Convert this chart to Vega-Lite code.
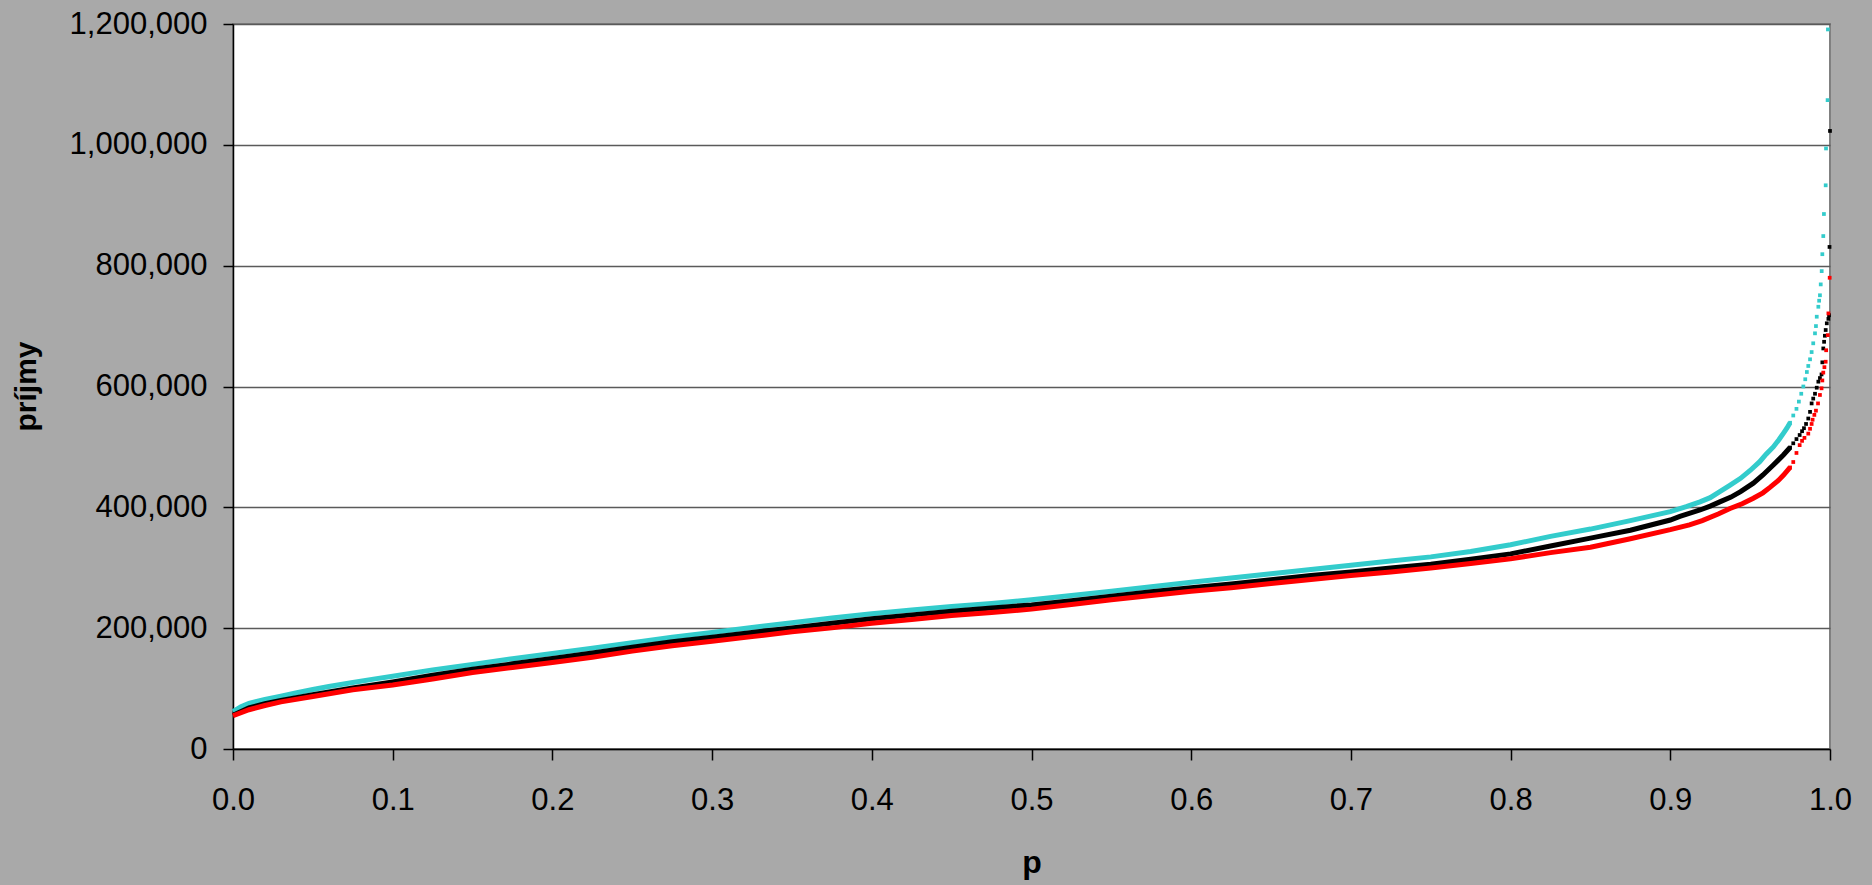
{
  "$schema": "https://vega.github.io/schema/vega-lite/v6.json",
  "width": 1597,
  "height": 725,
  "autosize": "none",
  "padding": {"left": 233, "top": 24, "right": 42, "bottom": 136},
  "background": "#a9a9a9",
  "config": {
    "view": {"fill": "white", "stroke": "#808080", "strokeWidth": 2},
    "font": "Liberation Sans"
  },
  "data": {"values": [
    {"s": "c", "p": 0.000, "v": 62000}, {"s": "c", "p": 0.005, "v": 70000}, {"s": "c", "p": 0.010, "v": 75500},
    {"s": "c", "p": 0.020, "v": 82000}, {"s": "c", "p": 0.030, "v": 87500}, {"s": "c", "p": 0.040, "v": 93000},
    {"s": "c", "p": 0.050, "v": 98500}, {"s": "c", "p": 0.060, "v": 103500}, {"s": "c", "p": 0.075, "v": 110000},
    {"s": "c", "p": 0.090, "v": 116500}, {"s": "c", "p": 0.100, "v": 120500}, {"s": "c", "p": 0.125, "v": 131000},
    {"s": "c", "p": 0.150, "v": 140000}, {"s": "c", "p": 0.175, "v": 149500}, {"s": "c", "p": 0.200, "v": 158000},
    {"s": "c", "p": 0.225, "v": 167000}, {"s": "c", "p": 0.250, "v": 176000}, {"s": "c", "p": 0.275, "v": 185000},
    {"s": "c", "p": 0.300, "v": 193000}, {"s": "c", "p": 0.325, "v": 201000}, {"s": "c", "p": 0.350, "v": 209000},
    {"s": "c", "p": 0.375, "v": 217000}, {"s": "c", "p": 0.400, "v": 224000}, {"s": "c", "p": 0.425, "v": 230000},
    {"s": "c", "p": 0.450, "v": 236000}, {"s": "c", "p": 0.475, "v": 241000}, {"s": "c", "p": 0.500, "v": 247000},
    {"s": "c", "p": 0.525, "v": 254000}, {"s": "c", "p": 0.550, "v": 261000}, {"s": "c", "p": 0.575, "v": 268500},
    {"s": "c", "p": 0.600, "v": 276000}, {"s": "c", "p": 0.625, "v": 283000}, {"s": "c", "p": 0.650, "v": 290000},
    {"s": "c", "p": 0.675, "v": 297000}, {"s": "c", "p": 0.700, "v": 304000}, {"s": "c", "p": 0.725, "v": 311000},
    {"s": "c", "p": 0.750, "v": 318000}, {"s": "c", "p": 0.775, "v": 327000}, {"s": "c", "p": 0.800, "v": 338000},
    {"s": "c", "p": 0.825, "v": 352000}, {"s": "c", "p": 0.850, "v": 364000}, {"s": "c", "p": 0.875, "v": 378000},
    {"s": "c", "p": 0.900, "v": 393000}, {"s": "c", "p": 0.910, "v": 401000}, {"s": "c", "p": 0.9186, "v": 409000},
    {"s": "c", "p": 0.925, "v": 416000}, {"s": "c", "p": 0.931, "v": 426000}, {"s": "c", "p": 0.937, "v": 436000},
    {"s": "c", "p": 0.944, "v": 448000}, {"s": "c", "p": 0.950, "v": 461000}, {"s": "c", "p": 0.956, "v": 475600},
    {"s": "c", "p": 0.960, "v": 488000}, {"s": "c", "p": 0.9645, "v": 500000}, {"s": "c", "p": 0.968, "v": 512000},
    {"s": "c", "p": 0.9708, "v": 522500}, {"s": "c", "p": 0.973, "v": 531000}, {"s": "c", "p": 0.975, "v": 540000},
    {"s": "c", "p": 0.977, "v": 552000}, {"s": "c", "p": 0.979, "v": 563000}, {"s": "c", "p": 0.9805, "v": 575000},
    {"s": "c", "p": 0.982, "v": 588000}, {"s": "c", "p": 0.9833, "v": 600000}, {"s": "c", "p": 0.9845, "v": 612000},
    {"s": "c", "p": 0.9855, "v": 624000}, {"s": "c", "p": 0.9864, "v": 634000}, {"s": "c", "p": 0.9875, "v": 645000},
    {"s": "c", "p": 0.9885, "v": 657000}, {"s": "c", "p": 0.9895, "v": 671500}, {"s": "c", "p": 0.9906, "v": 688000},
    {"s": "c", "p": 0.9912, "v": 700000}, {"s": "c", "p": 0.9917, "v": 715500}, {"s": "c", "p": 0.9927, "v": 732000},
    {"s": "c", "p": 0.9932, "v": 742000}, {"s": "c", "p": 0.9937, "v": 751000}, {"s": "c", "p": 0.9942, "v": 769000},
    {"s": "c", "p": 0.9948, "v": 791000}, {"s": "c", "p": 0.9952, "v": 819000}, {"s": "c", "p": 0.9958, "v": 849000},
    {"s": "c", "p": 0.9962, "v": 885500}, {"s": "c", "p": 0.9973, "v": 933000}, {"s": "c", "p": 0.9975, "v": 994000},
    {"s": "c", "p": 0.9985, "v": 1074000}, {"s": "c", "p": 0.9987, "v": 1191000},

    {"s": "k", "p": 0.000, "v": 56000}, {"s": "k", "p": 0.010, "v": 68000}, {"s": "k", "p": 0.020, "v": 75000},
    {"s": "k", "p": 0.030, "v": 80500}, {"s": "k", "p": 0.050, "v": 90000}, {"s": "k", "p": 0.075, "v": 101000},
    {"s": "k", "p": 0.100, "v": 111000}, {"s": "k", "p": 0.125, "v": 122000}, {"s": "k", "p": 0.150, "v": 132000},
    {"s": "k", "p": 0.175, "v": 141000}, {"s": "k", "p": 0.200, "v": 150000}, {"s": "k", "p": 0.225, "v": 159000},
    {"s": "k", "p": 0.250, "v": 168500}, {"s": "k", "p": 0.275, "v": 177500}, {"s": "k", "p": 0.300, "v": 185000},
    {"s": "k", "p": 0.325, "v": 193000}, {"s": "k", "p": 0.350, "v": 200500}, {"s": "k", "p": 0.375, "v": 208000},
    {"s": "k", "p": 0.400, "v": 215500}, {"s": "k", "p": 0.425, "v": 222000}, {"s": "k", "p": 0.450, "v": 228000},
    {"s": "k", "p": 0.475, "v": 233500}, {"s": "k", "p": 0.500, "v": 238500}, {"s": "k", "p": 0.525, "v": 245500},
    {"s": "k", "p": 0.550, "v": 253000}, {"s": "k", "p": 0.575, "v": 260500}, {"s": "k", "p": 0.600, "v": 267000},
    {"s": "k", "p": 0.625, "v": 273000}, {"s": "k", "p": 0.650, "v": 280000}, {"s": "k", "p": 0.675, "v": 287000},
    {"s": "k", "p": 0.700, "v": 293000}, {"s": "k", "p": 0.725, "v": 299500}, {"s": "k", "p": 0.750, "v": 306000},
    {"s": "k", "p": 0.775, "v": 314000}, {"s": "k", "p": 0.800, "v": 323000}, {"s": "k", "p": 0.825, "v": 336000},
    {"s": "k", "p": 0.850, "v": 349000}, {"s": "k", "p": 0.875, "v": 362000}, {"s": "k", "p": 0.900, "v": 379000},
    {"s": "k", "p": 0.906, "v": 385000}, {"s": "k", "p": 0.9186, "v": 395600}, {"s": "k", "p": 0.925, "v": 402000},
    {"s": "k", "p": 0.931, "v": 409000}, {"s": "k", "p": 0.938, "v": 417000}, {"s": "k", "p": 0.944, "v": 426000},
    {"s": "k", "p": 0.948, "v": 433000}, {"s": "k", "p": 0.952, "v": 440000}, {"s": "k", "p": 0.958, "v": 453500},
    {"s": "k", "p": 0.9645, "v": 470000}, {"s": "k", "p": 0.9708, "v": 486600}, {"s": "k", "p": 0.975, "v": 499000},
    {"s": "k", "p": 0.977, "v": 506000}, {"s": "k", "p": 0.979, "v": 513000}, {"s": "k", "p": 0.981, "v": 519700},
    {"s": "k", "p": 0.9825, "v": 526000}, {"s": "k", "p": 0.9837, "v": 531000}, {"s": "k", "p": 0.985, "v": 538000},
    {"s": "k", "p": 0.9864, "v": 547000}, {"s": "k", "p": 0.9875, "v": 558000}, {"s": "k", "p": 0.9885, "v": 572000},
    {"s": "k", "p": 0.9895, "v": 580000}, {"s": "k", "p": 0.9906, "v": 588000}, {"s": "k", "p": 0.9917, "v": 598000},
    {"s": "k", "p": 0.9927, "v": 608000}, {"s": "k", "p": 0.9937, "v": 614000}, {"s": "k", "p": 0.9947, "v": 620000},
    {"s": "k", "p": 0.9952, "v": 640000}, {"s": "k", "p": 0.9958, "v": 663000}, {"s": "k", "p": 0.9963, "v": 674000},
    {"s": "k", "p": 0.9968, "v": 684000}, {"s": "k", "p": 0.9973, "v": 693500}, {"s": "k", "p": 0.998, "v": 704600},
    {"s": "k", "p": 0.999, "v": 712000}, {"s": "k", "p": 0.9994, "v": 718000}, {"s": "k", "p": 0.9997, "v": 831000},
    {"s": "k", "p": 1.0, "v": 1023000},

    {"s": "r", "p": 0.000, "v": 55000}, {"s": "r", "p": 0.010, "v": 65000}, {"s": "r", "p": 0.020, "v": 72000},
    {"s": "r", "p": 0.030, "v": 78000}, {"s": "r", "p": 0.050, "v": 87000}, {"s": "r", "p": 0.075, "v": 98000},
    {"s": "r", "p": 0.100, "v": 106000}, {"s": "r", "p": 0.125, "v": 116000}, {"s": "r", "p": 0.150, "v": 126500},
    {"s": "r", "p": 0.175, "v": 135000}, {"s": "r", "p": 0.200, "v": 143000}, {"s": "r", "p": 0.225, "v": 152000},
    {"s": "r", "p": 0.250, "v": 162000}, {"s": "r", "p": 0.275, "v": 171000}, {"s": "r", "p": 0.300, "v": 178500},
    {"s": "r", "p": 0.325, "v": 186000}, {"s": "r", "p": 0.350, "v": 194000}, {"s": "r", "p": 0.375, "v": 200500},
    {"s": "r", "p": 0.400, "v": 208000}, {"s": "r", "p": 0.425, "v": 214500}, {"s": "r", "p": 0.450, "v": 221000},
    {"s": "r", "p": 0.475, "v": 226000}, {"s": "r", "p": 0.500, "v": 231500}, {"s": "r", "p": 0.525, "v": 239000},
    {"s": "r", "p": 0.550, "v": 247000}, {"s": "r", "p": 0.575, "v": 254000}, {"s": "r", "p": 0.600, "v": 261000},
    {"s": "r", "p": 0.625, "v": 267000}, {"s": "r", "p": 0.650, "v": 274000}, {"s": "r", "p": 0.675, "v": 280500},
    {"s": "r", "p": 0.700, "v": 287000}, {"s": "r", "p": 0.725, "v": 293000}, {"s": "r", "p": 0.750, "v": 299500},
    {"s": "r", "p": 0.775, "v": 307000}, {"s": "r", "p": 0.800, "v": 315000}, {"s": "r", "p": 0.825, "v": 325000},
    {"s": "r", "p": 0.850, "v": 334000}, {"s": "r", "p": 0.875, "v": 348000}, {"s": "r", "p": 0.900, "v": 363000},
    {"s": "r", "p": 0.912, "v": 371000}, {"s": "r", "p": 0.920, "v": 378000}, {"s": "r", "p": 0.930, "v": 389000},
    {"s": "r", "p": 0.9374, "v": 398000}, {"s": "r", "p": 0.945, "v": 406000}, {"s": "r", "p": 0.952, "v": 415000},
    {"s": "r", "p": 0.958, "v": 424000}, {"s": "r", "p": 0.9624, "v": 433000}, {"s": "r", "p": 0.9675, "v": 444000},
    {"s": "r", "p": 0.9708, "v": 453000}, {"s": "r", "p": 0.975, "v": 466000}, {"s": "r", "p": 0.977, "v": 475000},
    {"s": "r", "p": 0.979, "v": 490000}, {"s": "r", "p": 0.981, "v": 503000}, {"s": "r", "p": 0.9825, "v": 510000},
    {"s": "r", "p": 0.984, "v": 515000}, {"s": "r", "p": 0.9864, "v": 522000}, {"s": "r", "p": 0.9875, "v": 530000},
    {"s": "r", "p": 0.9885, "v": 538000}, {"s": "r", "p": 0.9891, "v": 545000}, {"s": "r", "p": 0.9902, "v": 553000},
    {"s": "r", "p": 0.9912, "v": 560000}, {"s": "r", "p": 0.9925, "v": 572000}, {"s": "r", "p": 0.9937, "v": 586000},
    {"s": "r", "p": 0.9947, "v": 597000}, {"s": "r", "p": 0.9952, "v": 610000}, {"s": "r", "p": 0.9958, "v": 623000},
    {"s": "r", "p": 0.9965, "v": 632000}, {"s": "r", "p": 0.9973, "v": 641000}, {"s": "r", "p": 0.9976, "v": 660000},
    {"s": "r", "p": 0.9986, "v": 685000}, {"s": "r", "p": 0.9990, "v": 721000}, {"s": "r", "p": 0.9998, "v": 780000}
  ]},
  "encoding": {
    "x": {
      "field": "p", "type": "quantitative",
      "scale": {"domain": [0, 1], "nice": false, "zero": false},
      "axis": {
        "title": "p", "values": [0, 0.1, 0.2, 0.3, 0.4, 0.5, 0.6, 0.7, 0.8, 0.9, 1.0],
        "format": ".1f", "grid": false,
        "domainColor": "#000000", "domainWidth": 1.5,
        "tickColor": "#000000", "tickSize": 11, "tickWidth": 1.5,
        "labelFont": "Liberation Sans", "labelFontSize": 31, "labelColor": "#000000", "labelPadding": 25,
        "labelFlush": false, "labelOverlap": false,
        "titleFont": "Liberation Sans", "titleFontSize": 32, "titleFontWeight": "bold", "titleColor": "#000000",
        "titleY": 123, "titleBaseline": "alphabetic"
      }
    },
    "y": {
      "field": "v", "type": "quantitative",
      "scale": {"domain": [0, 1200000], "nice": false},
      "axis": {
        "title": "príjmy", "values": [0, 200000, 400000, 600000, 800000, 1000000, 1200000],
        "format": ",d", "grid": true, "gridColor": "#5a5a5a", "gridWidth": 1.5,
        "domainColor": "#000000", "domainWidth": 1.5,
        "tickColor": "#000000", "tickSize": 10, "tickWidth": 1.5,
        "labelFont": "Liberation Sans", "labelFontSize": 31, "labelColor": "#000000", "labelPadding": 16,
        "labelFlush": false, "labelOverlap": false,
        "titleFont": "Liberation Sans", "titleFontSize": 30, "titleFontWeight": "bold", "titleColor": "#000000",
        "titleX": -207, "titleY": 362, "titleAngle": -90, "titleAlign": "center", "titleBaseline": "middle"
      }
    },
    "color": {
      "field": "s", "type": "nominal",
      "scale": {"domain": ["c", "k", "r"], "range": ["#33cccc", "#000000", "#ff0000"]},
      "legend": null
    }
  },
  "layer": [
    {
      "transform": [{"filter": "datum.p <= 0.9755"}],
      "mark": {"type": "line", "strokeWidth": 5, "clip": false}
    },
    {
      "transform": [{"filter": "datum.p >= 0.974"}],
      "mark": {"type": "point", "shape": "square", "filled": true, "size": 14, "opacity": 1, "clip": false}
    }
  ]
}
